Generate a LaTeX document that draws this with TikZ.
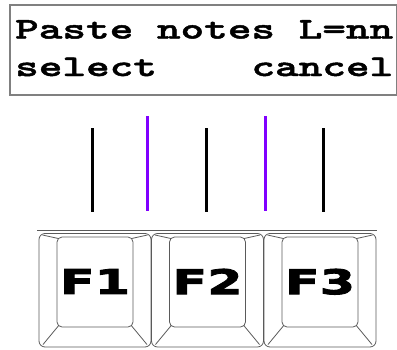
\documentclass[tikz,border=0pt]{standalone}
\usepackage{fontspec}
\newfontfamily\lcdfont[FakeStretch=1.5,FakeBold=1.6]{lmmonolt10-bold.otf}
\newfontfamily\keyfont[FakeStretch=1.5,FakeBold=2.5]{DejaVu Sans Bold}
\definecolor{lcdpurple}{HTML}{8000FF}
\definecolor{framegray}{HTML}{808080}
\definecolor{keygray}{HTML}{5A5A5A}
\tikzset{
  lcdframe/.style={draw=framegray, line width=1.2pt},
  lcdtext/.style={inner sep=0pt, anchor=base west, font=\lcdfont\fontsize{30}{30}\selectfont},
  marker/.style={line width=2.6pt, black},
  selmarker/.style={line width=2.6pt, lcdpurple},
  keyline/.style={draw=keygray, line width=0.8pt},
  keyface/.style={keyline, rounded corners=5pt, minimum width=76pt, minimum height=90pt, inner sep=0pt,
    font=\keyfont\fontsize{34}{34}\selectfont},
}
\begin{document}
\begin{tikzpicture}[x=1pt,y=-1pt]
\useasboundingbox (0,0) rectangle (397,349);
% LCD
\draw[lcdframe] (10,5) rectangle (396.5,95);
\node[lcdtext] (line1) at (15,38.5) {Paste notes L=nn};
\node[lcdtext] (line2) at (15,76) {select~~~~cancel};
% pointer lines
\foreach \x [count=\n] in {92.3,206.7,323.3}
  \draw[marker] (\x,128) coordinate (mt\n) -- (\x,212) coordinate (mb\n);
\foreach \x [count=\n] in {147.7,265.3}
  \draw[selmarker] (\x,116) coordinate (st\n) -- (\x,211) coordinate (sb\n);
% key row top line
\draw[keyline] (37,230.5) -- (377,230.5);
% keys
\foreach \i/\lab in {0/F1,1/F2,2/F3} {
  \begin{scope}[xshift=\i*112.5pt]
    \draw[keyline, rounded corners=6pt] (39,233.5) rectangle (151,347);
    \node[keyface] (face\i) at (95,282) {\raisebox{1pt}{\lab}};
    \draw[keyline] (42.5,235) -- (58.8,238.6);
    \draw[keyline] (131.2,238.6) -- (147.5,235);
    \draw[keyline] (58.8,325.4) -- (43,344.5);
    \draw[keyline] (131.2,325.4) -- (147,344.5);
  \end{scope}
}
\end{tikzpicture}
\end{document}
